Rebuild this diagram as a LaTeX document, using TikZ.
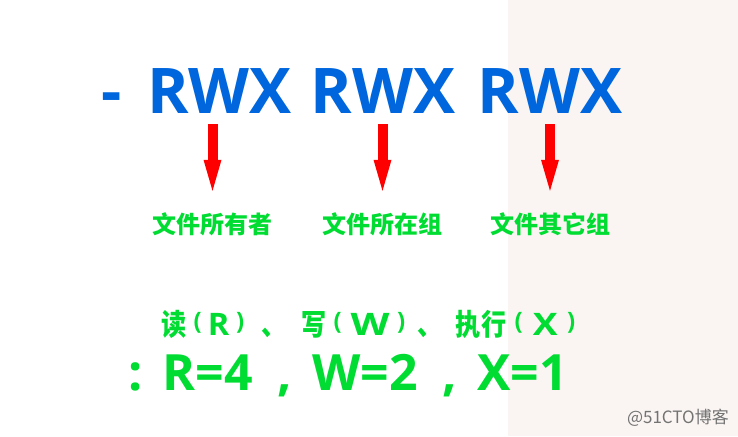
\documentclass[tikz,border=0pt]{standalone}
\usepackage{fontspec}
\usetikzlibrary{arrows.meta}
\newfontfamily\osans{Open Sans}
\newfontfamily\cjk{Noto Sans CJK SC}
\newfontfamily\cjkn{Noto Sans CJK SC}[FakeStretch=0.85]
\definecolor{titleblue}{RGB}{0,102,221}
\definecolor{labgreen}{RGB}{0,220,50}
\definecolor{arrred}{RGB}{255,0,0}
\definecolor{pinkbg}{RGB}{250,245,243}
\definecolor{wmgray}{RGB}{115,115,115}
\newcommand\gc[1]{\makebox[0pt][c]{\cjkn\bfseries\fontsize{29.5}{29.5}\selectfont #1}}
\newcommand\gl[2]{\makebox[0pt][c]{\scalebox{#1}[1]{\osans\bfseries\fontsize{31}{31}\selectfont #2}}}
\newcommand\gp[1]{\makebox[0pt][c]{\raisebox{5.5pt}{\osans\bfseries\fontsize{24}{24}\selectfont #1}}}
\tikzset{
  titletext/.style={inner sep=0pt, anchor=base, text=titleblue, font=\osans\bfseries\fontsize{63}{63}\selectfont},
  labtext/.style={inner sep=0pt, anchor=base, text=labgreen, text height=20pt, font=\cjk\bfseries\fontsize{24}{24}\selectfont},
  midtext/.style={inner sep=0pt, anchor=base west, text=labgreen},
  bigtext/.style={inner sep=0pt, anchor=base west, text=labgreen, font=\osans\bfseries\fontsize{50}{50}\selectfont},
  redarr/.style={draw=arrred, line width=10pt, -{Triangle[width=18pt,length=31pt,line width=0pt]}}
}
\begin{document}
\begin{tikzpicture}[x=1pt,y=-1pt]
\useasboundingbox (0,0) rectangle (738,436);
\fill[white] (0,0) rectangle (738,436);
\fill[pinkbg] (508,0) rectangle (738,436);
% title
\node[titletext] (dash) at (111.5,113) {-};
\node[titletext] (r1) at (219.5,113) {RWX};
\node[titletext] (r2) at (383,113) {RWX};
\node[titletext] (r3) at (550,113) {RWX};
% labels
\node[labtext] (lab1) at (212.5,233) {文件所有者};
\node[labtext] (lab2) at (382.5,233) {文件所在组};
\node[labtext] (lab3) at (550,233) {文件其它组};
% arrows
\draw[redarr] ([yshift=-11pt]lab1.north |- r1.base) -- ([yshift=22pt]lab1.north);
\draw[redarr] ([yshift=-11pt]lab2.north |- r2.base) -- ([yshift=22pt]lab2.north);
\draw[redarr] ([yshift=-11pt]lab3.north |- r3.base) -- ([yshift=22pt]lab3.north);
% meaning
\node[midtext] (rwx) at (162,335) {\kern12pt\gc{读}\kern23.5pt\gp{(}\kern21pt\gl{1.05}{R}\kern21.5pt\gp{)}\kern34.3pt\gc{、}\kern39.7pt\gc{写}\kern23.5pt\gp{(}\kern32.5pt\gl{1.3}{W}\kern31pt\gp{)}\kern29.3pt\gc{、}\kern37.2pt\gc{执}\kern26pt\gc{行}\kern25pt\gp{(}\kern26.5pt\gl{1.2}{X}\kern26pt\gp{)}\kern8pt};
\node[bigtext] (vals) at (128,390) {:\hspace{3pt} R=4\hspace{12pt} ,\hspace{7pt} W=2\hspace{12pt} ,\hspace{7pt} X=1};
% watermark
\node[inner sep=0pt, anchor=east, text=wmgray, font=\cjk\fontsize{17}{17}\selectfont] (wm) at (729,418) {@51CTO博客};
\end{tikzpicture}
\end{document}
